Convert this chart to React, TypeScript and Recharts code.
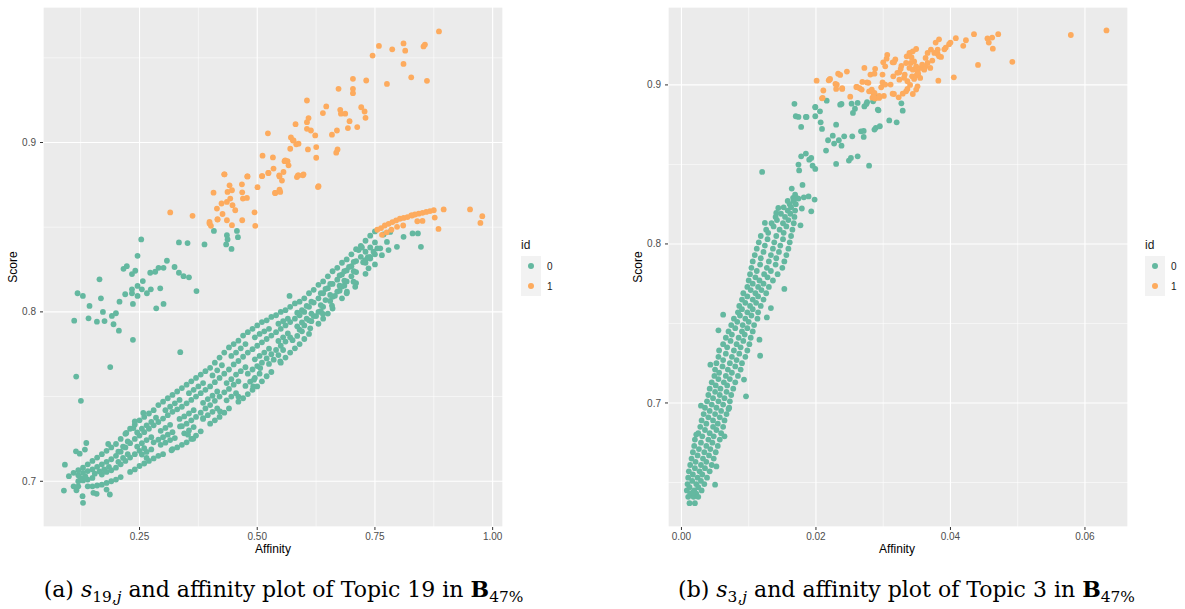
import { ScatterChart, Scatter, XAxis, YAxis, CartesianGrid } from 'recharts';

const TEAL = '#64B8A0';
const ORANGE = '#FDAB5E';
const SANS = '"Liberation Sans", Arial, Helvetica, sans-serif';
const SERIF = '"DejaVu Serif", serif';

// ---- Topic 19 (left panel) ----
// affinity positions of the dense band (two staggered rows), score per strand of the band
const topic19BandX = [
  0.10, 0.11, 0.12, 0.13, 0.14, 0.15, 0.16, 0.17, 0.18, 0.19,
  0.20, 0.21, 0.22, 0.23, 0.24, 0.25, 0.26, 0.27, 0.28, 0.29,
  0.30, 0.31, 0.32, 0.33, 0.34, 0.35, 0.36, 0.37, 0.38, 0.39,
  0.40, 0.41, 0.42, 0.43, 0.44, 0.45, 0.46, 0.47, 0.48, 0.49,
  0.50, 0.51, 0.52, 0.53, 0.54, 0.55, 0.56, 0.57, 0.58, 0.59,
  0.60, 0.61, 0.62, 0.63, 0.64, 0.65, 0.66, 0.67, 0.68, 0.69,
  0.70, 0.71, 0.72, 0.73, 0.74, 0.75,
];
const topic19BandX2 = [
  0.105, 0.115, 0.125, 0.135, 0.145, 0.155, 0.165, 0.175, 0.185, 0.195,
  0.205, 0.215, 0.225, 0.235, 0.245, 0.255, 0.265, 0.275, 0.285, 0.295,
  0.305, 0.315, 0.325, 0.335, 0.345, 0.355, 0.365, 0.375, 0.385, 0.395,
  0.405, 0.415, 0.425, 0.435, 0.445, 0.455, 0.465, 0.475, 0.485, 0.495,
  0.505, 0.515, 0.525, 0.535, 0.545, 0.555, 0.565, 0.575, 0.585, 0.595,
  0.605, 0.615, 0.625, 0.635, 0.645, 0.655, 0.665, 0.675, 0.685, 0.695,
  0.705, 0.715, 0.725, 0.735, 0.745, 0.755,
];
const topic19StrandA = [
  .703, .705, .7065, .708, .710, .712, .714, .716, .718, .720,
  .722, .725, .728, .731, .7335, .736, .738, .740, .742, .745,
  .747, .749, .751, .753, .755, .757, .759, .761, .763, .765,
  .767, .770, .773, .776, .779, .781, .783, .786, .788, .790,
  .792, .794, .795, .797, .798, .800, .801, .803, .805, .806,
  .808, .811, .813, .816, .818, .821, .824, .826, .829, .831,
  .834, .837, .839, .842, .845, .8475,
];
const topic19StrandF = [
  null, null, null, null, null, null, null, null, null, null,
  .7175, .7205, .7235, null, .7288, .731, .733, .735, .7375, null,
  .742, .744, .746, .748, null, .752, .754, .756, .758, null,
  .7625, .7655, .7685, null, .774, .776, .7785, .781, null, .785,
  .787, .7885, .790, null, .793, .7945, .796, null, .7995, .801,
  .8035, .806, null, .811, .8135, .8165, null, .8215, .824, .8265,
  .8295, null, null, null, null, null,
];
const topic19StrandB = [
  null, null, .7035, .705, .706, .707, .7085, .710, .7115, .713,
  .715, .7175, .720, .7225, .725, .727, .729, .731, .733, .735,
  .737, .739, .741, .7425, .744, .746, .748, .750, .752, .754,
  .756, .7585, .761, .7635, .766, .769, .771, .7735, .776, .778,
  .780, .782, .784, .786, .788, .790, .792, .794, .796, .798,
  .800, .803, .8055, .808, .811, .814, .8165, .819, .822, .8245,
  .827, .830, .8325, .8355, .838, .841,
];
const topic19StrandE = [
  null, null, .7018, .7028, null, .7045, .7058, .707, .7085, null,
  .7115, .7138, .716, null, .7205, .7225, .7243, .726, null, .7298,
  .7315, .7333, null, .7368, .7383, .740, .742, null, .7463, .7485,
  .7505, .753, null, .758, .7603, .763, .765, .7673, null, .772,
  .774, .776, .7783, null, .7828, .785, .7873, null, .7915, .7938,
  .796, .799, null, .804, .807, .810, null, .8155, .8185, null,
  .824, null, .8293, .8323, null, .8375,
];
const topic19StrandC = [
  null, null, .700, .7005, .701, .702, null, .704, .7055, .7065,
  .708, .710, .712, .714, .716, .718, .7195, null, .723, .7245,
  .726, .7275, .729, null, .7325, .734, .736, .738, .7405, .743,
  .745, .7475, .750, .7525, .7545, .757, .759, null, .7635, .766,
  .768, .770, .7725, .775, .7775, .780, .7825, .785, null, .7895,
  .792, .795, .7975, .800, .803, null, .809, .812, .815, .818,
  .821, .8235, null, .829, .8315, .834,
];
const topic19StrandG = [
  null, null, null, null, null, null, null, null, null, null,
  null, null, null, null, null, .7158, .7173, .7188, null, .7215,
  .7228, .7243, .7255, null, .7283, .730, .732, null, .7368, .739,
  .741, .743, null, .7478, .750, .752, null, .7563, .7588, .761,
  .7635, null, .7693, .7718, .7745, .7775, null, .7833, .7858, .7885,
  null, .7945, .7975, .8005, null, .8065, .8095, .8125, .8155, null,
  null, null, null, null, null, null,
];
const topic19StrandD = [
  null, .697, .697, null, .697, .697, .6975, .698, .699, .700,
  .701, .7025, null, .7055, .707, .709, .7105, .712, .7135, .715,
  .716, null, .719, .720, .7215, .723, .725, .727, .7295, null,
  .734, .736, .738, .7405, .743, null, .747, .749, .7515, .754,
  .756, .759, .762, .7645, null, .770, .773, .776, .7785, .781,
  .784, .787, null, .793, .796, .799, .802, null, .808, .811,
  null, .817, null, .8225, null, .828,
];
const topic19TealScatter: [number, number][] = [
  [0.1184, 0.811], [0.1297, 0.8094], [0.165, 0.8192], [0.168, 0.808], [0.216, 0.8254], [0.223, 0.827],
  [0.241, 0.8243], [0.234, 0.8223], [0.2458, 0.8331], [0.2536, 0.8428], [0.257, 0.8182], [0.234, 0.8133],
  [0.2196, 0.8104], [0.234, 0.811], [0.2458, 0.8153], [0.2458, 0.8094], [0.2657, 0.811], [0.255, 0.8133],
  [0.274, 0.8133], [0.294, 0.8139], [0.2727, 0.8231], [0.2834, 0.8237], [0.2904, 0.826], [0.301, 0.826],
  [0.3082, 0.8302], [0.3244, 0.8265], [0.3337, 0.8231], [0.3435, 0.8211], [0.355, 0.8204], [0.3337, 0.841],
  [0.352, 0.8406], [0.371, 0.8123], [0.388, 0.8398], [0.408, 0.8478], [0.4356, 0.8453], [0.437, 0.8428],
  [0.434, 0.8398], [0.4454, 0.8372], [0.4569, 0.8478], [0.459, 0.8441], [0.5686, 0.8094],
  [0.1113, 0.7948], [0.1438, 0.8035], [0.1417, 0.7962], [0.1595, 0.7942], [0.1723, 0.8], [0.1757, 0.7946],
  [0.1913, 0.7976], [0.1948, 0.7927], [0.1999, 0.7992], [0.2062, 0.7889], [0.2075, 0.806], [0.236, 0.8047],
  [0.236, 0.7835], [0.2855, 0.8021], [0.301, 0.8047], [0.1878, 0.7674], [0.1155, 0.7618], [0.1255, 0.7475],
  [0.3365, 0.7762],
  [0.0915, 0.7098], [0.0894, 0.6945], [0.116, 0.6947], [0.129, 0.6912], [0.130, 0.6873], [0.137, 0.7226],
  [0.115, 0.7177], [0.134, 0.7187], [0.123, 0.7163], [0.1835, 0.722], [0.152, 0.6932], [0.159, 0.6926],
  [0.187, 0.6922], [0.180, 0.6951], [0.222, 0.7285], [0.237, 0.7314], [0.240, 0.7353], [0.265, 0.7138],
  [0.258, 0.7403], [0.318, 0.7183], [0.364, 0.7251], [0.353, 0.7275], [0.336, 0.7324], [0.385, 0.7373],
  [0.421, 0.7412], [0.46, 0.750], [0.4915, 0.756], [0.493, 0.760],
  [0.7683, 0.8457], [0.7825, 0.8472], [0.8108, 0.8443], [0.8299, 0.8463], [0.8413, 0.8463], [0.8477, 0.8384],
  [0.7967, 0.8384], [0.7755, 0.8413], [0.7789, 0.8365], [0.7613, 0.8375], [0.747, 0.8355], [0.7648, 0.8335],
  [0.74, 0.8325], [0.7224, 0.838], [0.7294, 0.8306], [0.7364, 0.8257], [0.7045, 0.8178], [0.7081, 0.8148],
  [0.6905, 0.8119], [0.7152, 0.8365], [0.6395, 0.7988], [0.6587, 0.8037], [0.6126, 0.7903], [0.5489, 0.7707],
  [0.5064, 0.7668],
];
const topic19OrangeUpper: [number, number][] = [
  [0.3152, 0.8587], [0.3626, 0.8567], [0.3987, 0.8531], [0.4017, 0.8508], [0.4144, 0.861], [0.4072, 0.8704],
  [0.4242, 0.864], [0.4157, 0.8547], [0.4263, 0.8578], [0.4356, 0.8541], [0.4463, 0.8512], [0.4356, 0.8649],
  [0.4427, 0.8669], [0.4369, 0.8708], [0.4412, 0.8747], [0.4306, 0.8812], [0.4463, 0.8718], [0.4475, 0.863],
  [0.4533, 0.86], [0.4675, 0.8753], [0.4681, 0.8706], [0.4696, 0.8669], [0.4781, 0.8673], [0.4681, 0.8541],
  [0.4788, 0.88], [0.4943, 0.8588], [0.4958, 0.8508], [0.5006, 0.8736], [0.5106, 0.8802], [0.5113, 0.8922],
  [0.5234, 0.882], [0.5227, 0.9054], [0.5333, 0.8912], [0.5346, 0.8846], [0.5382, 0.8702], [0.5473, 0.8722],
  [0.5473, 0.88], [0.5525, 0.8775], [0.5558, 0.8826], [0.558, 0.889], [0.5644, 0.889], [0.5665, 0.8865],
  [0.5701, 0.8963], [0.5716, 0.903], [0.5758, 0.9012], [0.5814, 0.9108], [0.5829, 0.8989], [0.5878, 0.8806],
  [0.5489, 0.8708], [0.5595, 0.8895], [0.5771, 0.9012], [0.5877, 0.8993], [0.5843, 0.8796], [0.5983, 0.8812],
  [0.6056, 0.9248], [0.6056, 0.912], [0.609, 0.9144], [0.6056, 0.9081], [0.6077, 0.8959], [0.614, 0.9071],
  [0.6232, 0.9042], [0.6253, 0.8973], [0.6253, 0.891], [0.6302, 0.8742], [0.6395, 0.9174], [0.6466, 0.9213],
  [0.6587, 0.9046], [0.6678, 0.894], [0.6706, 0.8959], [0.6693, 0.9071], [0.6727, 0.9317], [0.6763, 0.9193],
  [0.6778, 0.917], [0.6869, 0.917], [0.6926, 0.9085], [0.6961, 0.9126], [0.7033, 0.9376], [0.7033, 0.9317],
  [0.7033, 0.9291], [0.7124, 0.9091], [0.7209, 0.9208], [0.728, 0.9183], [0.730, 0.9146], [0.7315, 0.9366],
  [0.745, 0.9513], [0.7585, 0.957], [0.7755, 0.9346], [0.7867, 0.955], [0.8107, 0.9585], [0.8143, 0.9542],
  [0.8107, 0.9464], [0.8271, 0.9385], [0.8532, 0.9567], [0.8562, 0.9578], [0.8605, 0.9364], [0.886, 0.9656],
  [0.3987, 0.8522], [0.4157, 0.8545], [0.4299, 0.8812], [0.4795, 0.88], [0.51, 0.8802], [0.524, 0.882],
  [0.5467, 0.8806], [0.538, 0.8702], [0.5865, 0.8806], [0.597, 0.8806], [0.629, 0.8737],
];
const topic19OrangeTail: [number, number][] = [
  [0.755, 0.8485], [0.763, 0.8495], [0.771, 0.851], [0.779, 0.852], [0.787, 0.853], [0.795, 0.854],
  [0.803, 0.855], [0.811, 0.8555], [0.819, 0.856], [0.827, 0.857], [0.835, 0.8575], [0.843, 0.858],
  [0.851, 0.8585], [0.859, 0.859], [0.867, 0.8595], [0.875, 0.86], [0.765, 0.8455], [0.775, 0.847],
  [0.785, 0.8485], [0.797, 0.8502], [0.81, 0.851], [0.829, 0.8569], [0.851, 0.8537], [0.84, 0.8535],
  [0.877, 0.8557], [0.885, 0.849], [0.896, 0.8605], [0.952, 0.8605], [0.978, 0.8565], [0.974, 0.8525],
];

// ---- Topic 3 (right panel) ----
// score levels of the steep band (two staggered rows), affinity per strand of the band
const topic3Levels = [
  .637, .641, .645, .649, .653, .657, .661, .665, .669, .673,
  .677, .681, .685, .689, .693, .697, .701, .705, .709, .713,
  .717, .721, .725, .729, .733, .737, .741, .745, .749, .753,
  .757, .761, .765, .769, .773, .777, .781, .785, .789, .793,
  .797, .801, .805, .809, .813, .817, .821, .825, .829,
];
const topic3Levels2 = [
  .639, .643, .647, .651, .655, .659, .663, .667, .671, .675,
  .679, .683, .687, .691, .695, .699, .703, .707, .711, .715,
  .719, .723, .727, .731, .735, .739, .743, .747, .751, .755,
  .759, .763, .767, .771, .775, .779, .783, .787, .791, .795,
  .799, .803, .807, .811, .815, .819, .823, .827, .831,
];
const topic3StrandA = [
  .0012, .0010, .0008, .0009, .0010, .0011, .0013, .0015, .0017, .0019,
  .0020, .0025, .0028, .0030, .0033, .0035, .0038, .0040, .0042, .0045,
  .0049, .0050, .0052, .0055, .0056, .0062, .0066, .0070, .0074, .0078,
  .0084, .0086, .0090, .0092, .0098, .0100, .0102, .0104, .0106, .0109,
  .0112, .0115, .0118, .0126, .0134, .0140, null, null, null,
];
const topic3StrandB = [
  null, .0013, .0012, .0016, .0017, .0020, .0021, .0024, .0026, .0029,
  .0031, .0035, .0037, .0040, .0042, .0045, .0047, .0050, .0051, .0055,
  .0056, .0061, .0062, .0066, .0068, .0073, .0075, .0080, .0083, .0087,
  .0090, .0095, .0098, .0103, .0106, .0110, .0112, .0117, .0118, .0122,
  .0124, .0128, .0129, .0137, .0142, .0148, .0152, .0158, null,
];
const topic3StrandC = [
  null, .0018, .0019, .0022, .0024, .0027, .0029, .0032, .0034, .0037,
  .0040, .0042, .0047, .0047, .0050, .0052, .0055, .0057, .0058, .0063,
  .0066, .0069, .0072, .0075, .0078, .0082, .0085, .0090, .0091, .0095,
  .0098, .0102, .0106, .0110, .0114, .0116, .0123, .0127, .0130, .0133,
  .0136, .0138, .0141, .0146, .0151, .0154, .0158, .0161, .0166,
];
const topic3StrandD = [
  null, .0022, .0025, .0029, .0031, .0035, .0037, .0041, .0043, .0046,
  .0048, .0052, .0054, .0057, .0059, .0062, .0064, .0067, .0068, .0072,
  .0075, .0080, .0082, .0086, .0088, .0092, .0094, .0098, .0100, .0104,
  .0106, .0111, .0114, .0119, .0122, .0128, .0133, .0140, .0141, .0145,
  .0147, .0151, .0152, .0156, .0159, .0162, .0163, .0167, .0169,
];
const topic3StrandE = [
  .0020, .0025, .0030, .0034, .0038, .0042, .0045, .0048, .0051, .0054,
  .0057, .0059, .0062, .0064, .0067, .0071, .0072, .0074, .0077, .0080,
  .0084, .0088, .0090, .0095, .0098, .0101, .0103, .0106, .0108, .0113,
  .0114, .0118, .0122, .0126, .0130, .0136, .0143, .0150, .0153, .0156,
  .0159, .0161, .0163, .0165, .0167, .0168, .0169, .0170, .0171,
];
const topic3TealScatter: [number, number][] = [
  [0.0062, 0.7555], [0.0055, 0.7457], [0.0043, 0.7241], [0.0029, 0.6983], [0.0096, 0.7042], [0.0070, 0.6962],
  [0.0064, 0.679], [0.0050, 0.6486], [0.0022, 0.6801], [0.0052, 0.6601], [0.0017, 0.6438], [0.0153, 0.7717],
  [0.0133, 0.7597], [0.0127, 0.7538], [0.0117, 0.7297], [0.0116, 0.7398], [0.0093, 0.7147],
  [0.0120, 0.8453], [0.0124, 0.8132], [0.0141, 0.8195], [0.0144, 0.8226], [0.0164, 0.8348], [0.0180, 0.8371],
  [0.0174, 0.8499], [0.0175, 0.8462], [0.0185, 0.8568], [0.0193, 0.8541], [0.0199, 0.8472], [0.0178, 0.8736],
  [0.0170, 0.8803], [0.0168, 0.8881], [0.0174, 0.8799], [0.0185, 0.8799], [0.0199, 0.8859], [0.0199, 0.8803],
  [0.0206, 0.8834], [0.0207, 0.8765], [0.0209, 0.8723], [0.0215, 0.8587], [0.0230, 0.875], [0.0225, 0.8681],
  [0.0218, 0.8652], [0.0227, 0.8631], [0.0234, 0.8652], [0.0238, 0.8618], [0.0242, 0.8677], [0.0230, 0.8503],
  [0.0249, 0.8524], [0.0252, 0.8541], [0.0262, 0.8551], [0.0267, 0.8708], [0.0254, 0.8677], [0.0271, 0.8673],
  [0.0279, 0.8492], [0.0236, 0.8876], [0.0255, 0.8824], [0.0258, 0.885], [0.0262, 0.8887], [0.0272, 0.8865],
  [0.0276, 0.8891], [0.0285, 0.8897], [0.0288, 0.8932], [0.0293, 0.884], [0.0289, 0.873], [0.0287, 0.8719],
  [0.0295, 0.874], [0.0309, 0.8777], [0.0327, 0.8884], [0.0329, 0.8838], [0.0320, 0.8765], [0.0174, 0.8285],
  [0.0182, 0.8293], [0.0189, 0.8299], [0.0193, 0.8205], [0.0177, 0.8117], [0.0179, 0.8223], [0.0198, 0.8279],
  [0.0178, 0.8551], [0.0190, 0.853], [0.0195, 0.8492], [0.0186, 0.8799], [0.0199, 0.8862], [0.0216, 0.8901],
  [0.0238, 0.888], [0.0253, 0.8882], [0.0275, 0.888], [0.0292, 0.8845], [0.0271, 0.8711],
];
const topic3Orange: [number, number][] = [
  [0.0201, 0.9027], [0.0209, 0.8916], [0.0211, 0.8965], [0.0219, 0.9029], [0.0221, 0.9038], [0.0230, 0.8975],
  [0.0231, 0.9002], [0.0233, 0.9071], [0.0236, 0.9063], [0.0239, 0.8979], [0.0246, 0.9084], [0.0251, 0.8926],
  [0.0260, 0.8987], [0.0265, 0.8979], [0.0268, 0.8971], [0.0272, 0.9107], [0.0278, 0.9013], [0.0279, 0.896],
  [0.0283, 0.8971], [0.0281, 0.9065], [0.0287, 0.9071], [0.0288, 0.9101], [0.0284, 0.892], [0.0288, 0.8914],
  [0.0286, 0.8943], [0.0294, 0.8918], [0.0297, 0.8985], [0.0299, 0.9016], [0.0299, 0.9065], [0.0303, 0.9117],
  [0.0300, 0.9142], [0.0306, 0.9189], [0.0301, 0.8931], [0.0311, 0.9002], [0.0314, 0.9142], [0.0321, 0.9076],
  [0.0269, 0.9019], [0.0276, 0.9016], [0.0282, 0.896], [0.0287, 0.895],
  [0.0316, 0.9142], [0.0315, 0.9054], [0.0316, 0.8943], [0.0323, 0.8922], [0.0329, 0.8945], [0.0334, 0.896],
  [0.0336, 0.8975], [0.0336, 0.9023], [0.0332, 0.9065], [0.0324, 0.9033], [0.0324, 0.9079], [0.0326, 0.9101],
  [0.0334, 0.9138], [0.0335, 0.918], [0.0339, 0.9201], [0.0344, 0.9211], [0.0342, 0.9174], [0.0349, 0.9226],
  [0.0346, 0.9148], [0.0341, 0.9138], [0.0339, 0.9107], [0.0344, 0.9096], [0.0349, 0.9117], [0.0351, 0.9086],
  [0.0343, 0.9054], [0.0346, 0.9038], [0.0349, 0.9059], [0.0352, 0.9071], [0.0356, 0.9107], [0.0358, 0.9128],
  [0.0363, 0.9117], [0.0366, 0.9138], [0.0370, 0.9107], [0.0361, 0.9096], [0.0355, 0.9044], [0.0351, 0.8991],
  [0.0349, 0.8971], [0.0344, 0.8943], [0.0314, 0.8945], [0.0382, 0.9027], [0.0405, 0.9048], [0.0371, 0.9222],
  [0.0376, 0.9201], [0.0381, 0.9195], [0.0383, 0.918], [0.0386, 0.9176], [0.0378, 0.9266], [0.0383, 0.9287],
  [0.0391, 0.9224], [0.0393, 0.9235], [0.0398, 0.9256], [0.0400, 0.9266], [0.0408, 0.9294], [0.0419, 0.9246],
  [0.0423, 0.9281], [0.0435, 0.9319], [0.0441, 0.9126], [0.0455, 0.9292], [0.0457, 0.9266], [0.0463, 0.9228],
  [0.0462, 0.9298], [0.0471, 0.9319], [0.0492, 0.9145], [0.0579, 0.9314], [0.0632, 0.9343], [0.0366, 0.9201],
  [0.0363, 0.917], [0.0373, 0.9153], [0.0381, 0.9222], [0.0220, 0.9033], [0.0229, 0.9006], [0.0239, 0.8975],
  [0.0261, 0.8987], [0.0294, 0.8931], [0.0303, 0.9002], [0.0286, 0.8922], [0.0210, 0.8919], [0.0305, 0.9165],
  [0.0318, 0.9160], [0.0327, 0.9120], [0.0331, 0.9045], [0.0340, 0.9000],
];

type Pt = { x: number; y: number };

const alongX = (xs: number[], ys: (number | null)[]): Pt[] =>
  xs.flatMap((x, i) => (ys[i] == null ? [] : [{ x, y: ys[i] as number }]));
const alongY = (ys: number[], xs: (number | null)[]): Pt[] =>
  ys.flatMap((y, i) => (xs[i] == null ? [] : [{ x: xs[i] as number, y }]));
const pairs = (list: [number, number][]): Pt[] => list.map(([x, y]) => ({ x, y }));

const topic19Teal = [
  ...alongX(topic19BandX, topic19StrandD),
  ...alongX(topic19BandX2, topic19StrandG),
  ...alongX(topic19BandX, topic19StrandC),
  ...alongX(topic19BandX2, topic19StrandE),
  ...alongX(topic19BandX, topic19StrandB),
  ...alongX(topic19BandX2, topic19StrandF),
  ...alongX(topic19BandX, topic19StrandA),
  ...pairs(topic19TealScatter),
];
const topic19Orange = [...pairs(topic19OrangeUpper), ...pairs(topic19OrangeTail)];

const topic3Teal = [
  ...alongY(topic3Levels, topic3StrandA),
  ...alongY(topic3Levels2, topic3StrandB),
  ...alongY(topic3Levels, topic3StrandC),
  ...alongY(topic3Levels2, topic3StrandD),
  ...alongY(topic3Levels, topic3StrandE),
  ...pairs(topic3TealScatter),
];
const topic3OrangePts = pairs(topic3Orange);

const dot = (fill: string) => (p: any) => <circle cx={p.cx} cy={p.cy} r={2.9} fill={fill} />;

const tickStyle = { fill: '#4D4D4D', fontSize: 10, fontFamily: SANS };

interface PanelProps {
  left: number;
  xDomain: [number, number];
  yDomain: [number, number];
  xTicks: number[];
  xMinor: number[];
  yTicks: number[];
  yMinor: number[];
  teal: Pt[];
  orange: Pt[];
}

function Panel({ left, xDomain, yDomain, xTicks, xMinor, yTicks, yMinor, teal, orange }: PanelProps) {
  return (
    <div style={{ position: 'absolute', left, top: 0 }}>
      <ScatterChart width={510} height={609} margin={{ top: 7, right: 7, bottom: 0, left: 0 }}>
        <XAxis xAxisId="minor" type="number" dataKey="x" domain={xDomain} ticks={xMinor} allowDataOverflow hide />
        <YAxis yAxisId="minor" type="number" dataKey="y" domain={yDomain} ticks={yMinor} allowDataOverflow hide />
        <CartesianGrid xAxisId="minor" yAxisId="minor" fill="#EBEBEB" stroke="#FFFFFF" strokeWidth={0.55} />
        <CartesianGrid stroke="#FFFFFF" strokeWidth={1.1} />
        <XAxis
          type="number"
          dataKey="x"
          domain={xDomain}
          ticks={xTicks}
          allowDataOverflow
          height={82}
          axisLine={false}
          tickLine={{ stroke: '#333333' }}
          tickSize={3}
          tickMargin={3}
          tick={tickStyle}
          tickFormatter={(v: number) => v.toFixed(2)}
        />
        <YAxis
          type="number"
          dataKey="y"
          domain={yDomain}
          ticks={yTicks}
          allowDataOverflow
          width={43}
          axisLine={false}
          tickLine={{ stroke: '#333333' }}
          tickSize={3}
          tickMargin={4}
          tick={tickStyle}
          tickFormatter={(v: number) => v.toFixed(1)}
        />
        <Scatter data={teal} shape={dot(TEAL)} isAnimationActive={false} />
        <Scatter data={orange} shape={dot(ORANGE)} isAnimationActive={false} />
      </ScatterChart>
    </div>
  );
}

function IdLegend({ left }: { left: number }) {
  const keys = [
    { label: '0', color: TEAL },
    { label: '1', color: ORANGE },
  ];
  return (
    <div style={{ position: 'absolute', left, top: 237, fontFamily: SANS, color: '#1A1A1A' }}>
      <div style={{ fontSize: 12, lineHeight: '16px', height: 19 }}>id</div>
      {keys.map((k) => (
        <div key={k.label} style={{ display: 'flex', alignItems: 'center', height: 20 }}>
          <div style={{ width: 20, height: 20, background: '#F2F2F2', position: 'relative' }}>
            <div
              style={{
                position: 'absolute', left: 7, top: 7, width: 6, height: 6,
                borderRadius: 3, background: k.color,
              }}
            />
          </div>
          <span style={{ fontSize: 10, marginLeft: 6 }}>{k.label}</span>
        </div>
      ))}
    </div>
  );
}

const centered = (x: number, y: number, rotate = false): React.CSSProperties => ({
  position: 'absolute',
  left: x,
  top: y,
  transform: `translate(-50%, -50%)${rotate ? ' rotate(-90deg)' : ''}`,
  fontFamily: SANS,
  fontSize: 12,
  color: '#000',
  whiteSpace: 'nowrap',
});

const subStyle: React.CSSProperties = { fontSize: '70%', verticalAlign: '-0.3em', lineHeight: 0 };

function Caption({ left, width, tag, topic }: { left: number; width: number; tag: string; topic: string }) {
  return (
    <div
      style={{
        position: 'absolute', left, width, top: 576, textAlign: 'center',
        fontFamily: SERIF, fontSize: 22, lineHeight: '26px', color: '#000', whiteSpace: 'nowrap',
      }}
    >
      ({tag}) <i>s</i>
      <sub style={subStyle}>{topic},<i>j</i></sub> and affinity plot of Topic {topic} in <b>B</b>
      <sub style={subStyle}>47%</sub>
    </div>
  );
}

export default function App() {
  return (
    <div style={{ position: 'absolute', left: 0, top: 0, width: 1185, height: 609, background: '#FFFFFF', overflow: 'hidden' }}>
      <Panel
        left={0}
        xDomain={[0.045, 1.022]}
        yDomain={[0.673, 0.98]}
        xTicks={[0.25, 0.5, 0.75, 1.0]}
        xMinor={[0.125, 0.375, 0.625, 0.875]}
        yTicks={[0.7, 0.8, 0.9]}
        yMinor={[0.75, 0.85, 0.95]}
        teal={topic19Teal}
        orange={topic19Orange}
      />
      <Panel
        left={625}
        xDomain={[-0.002, 0.0664]}
        yDomain={[0.622, 0.949]}
        xTicks={[0, 0.02, 0.04, 0.06]}
        xMinor={[0.01, 0.03, 0.05]}
        yTicks={[0.7, 0.8, 0.9]}
        yMinor={[0.65, 0.75, 0.85]}
        teal={topic3Teal}
        orange={topic3OrangePts}
      />
      <div style={centered(13, 267, true)}>Score</div>
      <div style={centered(273, 549)}>Affinity</div>
      <div style={centered(638, 267, true)}>Score</div>
      <div style={centered(897, 549)}>Affinity</div>
      <IdLegend left={521} />
      <IdLegend left={1145} />
      <Caption left={0} width={567} tag="a" topic="19" />
      <Caption left={628} width={557} tag="b" topic="3" />
    </div>
  );
}
